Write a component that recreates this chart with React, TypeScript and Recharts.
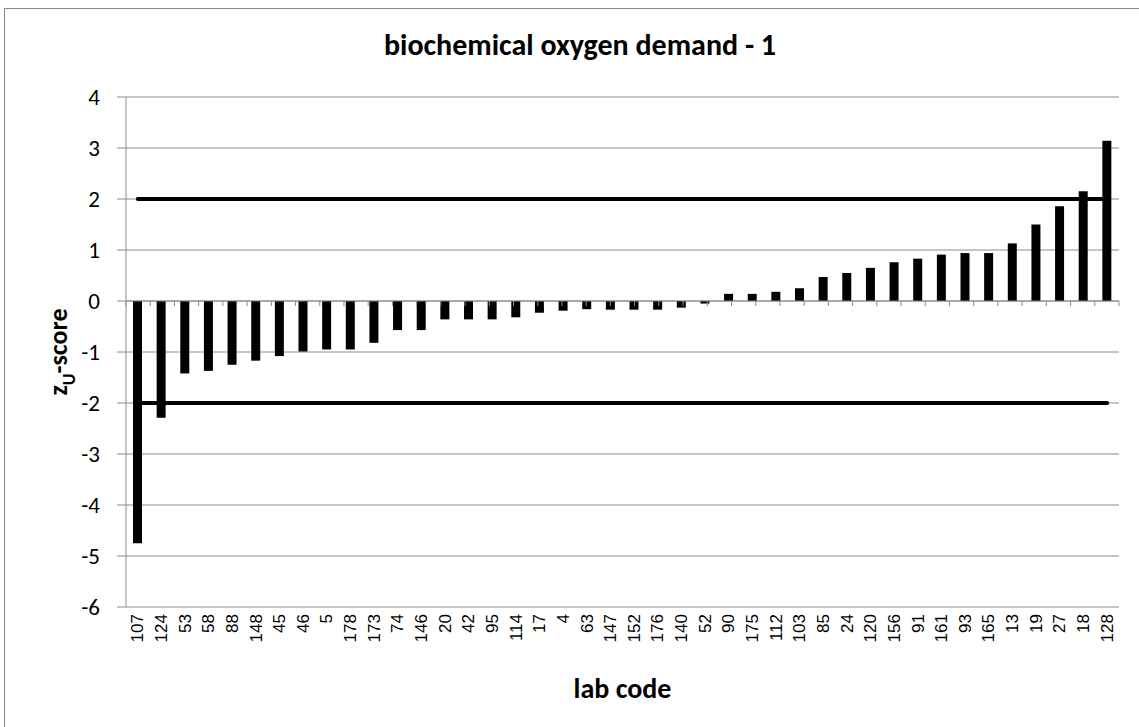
import {
  ComposedChart,
  Bar,
  Line,
  XAxis,
  YAxis,
  CartesianGrid,
  ReferenceLine,
  Label,
} from "recharts";

const labCodes = [
  "107", "124", "53", "58", "88", "148", "45", "46", "5", "178", "173", "74",
  "146", "20", "42", "95", "114", "17", "4", "63", "147", "152", "176", "140",
  "52", "90", "175", "112", "103", "85", "24", "120", "156", "91", "161", "93",
  "165", "13", "19", "27", "18", "128",
];

const zScores = [
  -4.75, -2.29, -1.42, -1.37, -1.25, -1.17, -1.08, -0.99, -0.95, -0.95, -0.82,
  -0.57, -0.57, -0.36, -0.36, -0.36, -0.32, -0.23, -0.19, -0.16, -0.17, -0.17,
  -0.17, -0.13, -0.05, 0.14, 0.14, 0.18, 0.25, 0.47, 0.55, 0.65, 0.76, 0.83,
  0.91, 0.94, 0.94, 1.13, 1.5, 1.86, 2.15, 3.14,
];

const upperLimit = 2;
const lowerLimit = -2;
const yTicks = [-6, -5, -4, -3, -2, -1, 0, 1, 2, 3, 4];

const data = labCodes.map((code, i) => ({
  code,
  z: zScores[i],
  upper: upperLimit,
  lower: lowerLimit,
}));

// category boundaries for the little tick marks on the zero axis
const boundaries = Array.from({ length: labCodes.length + 1 }, (_, i) => i);

const calibri = "Carlito, Lato, 'Open Sans', sans-serif";

function LabTick({ x, y, payload }: any) {
  return (
    <text
      x={0}
      y={0}
      transform={`translate(${x},${y - 1}) rotate(-90)`}
      textAnchor="end"
      dominantBaseline="central"
      fontFamily="'Liberation Sans', Arial, sans-serif"
      fontSize={17}
      fill="#000"
    >
      {payload.value}
    </text>
  );
}

function ValueTick({ x, y, payload }: any) {
  return (
    <text
      x={x}
      y={y}
      textAnchor="end"
      dominantBaseline="central"
      fontFamily={calibri}
      fontSize={23}
      fill="#000"
    >
      {payload.value}
    </text>
  );
}

function YTitle({ viewBox }: any) {
  const cx = viewBox.x + 8;
  const cy = viewBox.y + viewBox.height / 2;
  return (
    <text
      x={cx}
      y={cy}
      transform={`rotate(-90, ${cx}, ${cy})`}
      textAnchor="middle"
      dominantBaseline="central"
      fontFamily={calibri}
      fontWeight="bold"
      fontSize={26}
      fill="#000"
    >
      z
      <tspan baselineShift="sub" fontSize={18}>
        U
      </tspan>
      <tspan>-score</tspan>
    </text>
  );
}

function XTitle({ viewBox }: any) {
  return (
    <text
      x={viewBox.x + viewBox.width / 2}
      y={viewBox.y + 81}
      textAnchor="middle"
      dominantBaseline="central"
      fontFamily={calibri}
      fontWeight="bold"
      fontSize={28}
      fill="#000"
    >
      lab code
    </text>
  );
}

export default function App() {
  return (
    <div
      style={{
        position: "absolute",
        left: 0,
        top: 0,
        width: 1139,
        height: 727,
        background: "#fff",
      }}
    >
      <div
        style={{
          position: "absolute",
          left: 4,
          top: 8,
          width: 1135,
          height: 719,
          borderLeft: "1px solid #888",
          borderTop: "1px solid #888",
        }}
      />
      <div
        style={{
          position: "absolute",
          left: 0,
          top: 27,
          width: 1160,
          textAlign: "center",
          fontFamily: calibri,
          fontWeight: "bold",
          fontSize: 30,
          lineHeight: "36px",
          color: "#000",
        }}
      >
        biochemical oxygen demand - 1
      </div>
      <div style={{ position: "absolute", left: 0, top: 0 }}>
        <ComposedChart
          width={1139}
          height={727}
          data={data}
          margin={{ top: 97, right: 20, bottom: 7, left: 50 }}
        >
          <CartesianGrid vertical={false} stroke="#8c8c8c" />
          <XAxis
            dataKey="code"
            interval={0}
            height={113}
            axisLine={false}
            tickLine={false}
            tick={<LabTick />}
          >
            <Label content={<XTitle />} />
          </XAxis>
          <XAxis
            xAxisId="bounds"
            type="number"
            domain={[0, labCodes.length]}
            hide
          />
          <YAxis
            type="number"
            domain={[-6, 4]}
            ticks={yTicks}
            width={76}
            stroke="#8c8c8c"
            tickSize={9}
            tickMargin={17}
            tick={<ValueTick />}
          >
            <Label content={<YTitle />} />
          </YAxis>
          <ReferenceLine y={0} stroke="#8c8c8c" />
          {boundaries.map((b) => (
            <ReferenceLine
              key={`t-${b}`}
              xAxisId="bounds"
              ifOverflow="visible"
              segment={[
                { x: b, y: 0 },
                { x: b, y: -0.1 },
              ]}
              stroke="#8c8c8c"
            />
          ))}
          <Bar dataKey="z" fill="#000" barSize={9} isAnimationActive={false} />
          <Line
            dataKey="upper"
            stroke="#000"
            strokeWidth={4}
            strokeLinecap="round"
            dot={false}
            activeDot={false}
            isAnimationActive={false}
          />
          <Line
            dataKey="lower"
            stroke="#000"
            strokeWidth={4}
            strokeLinecap="round"
            dot={false}
            activeDot={false}
            isAnimationActive={false}
          />
        </ComposedChart>
      </div>
    </div>
  );
}
